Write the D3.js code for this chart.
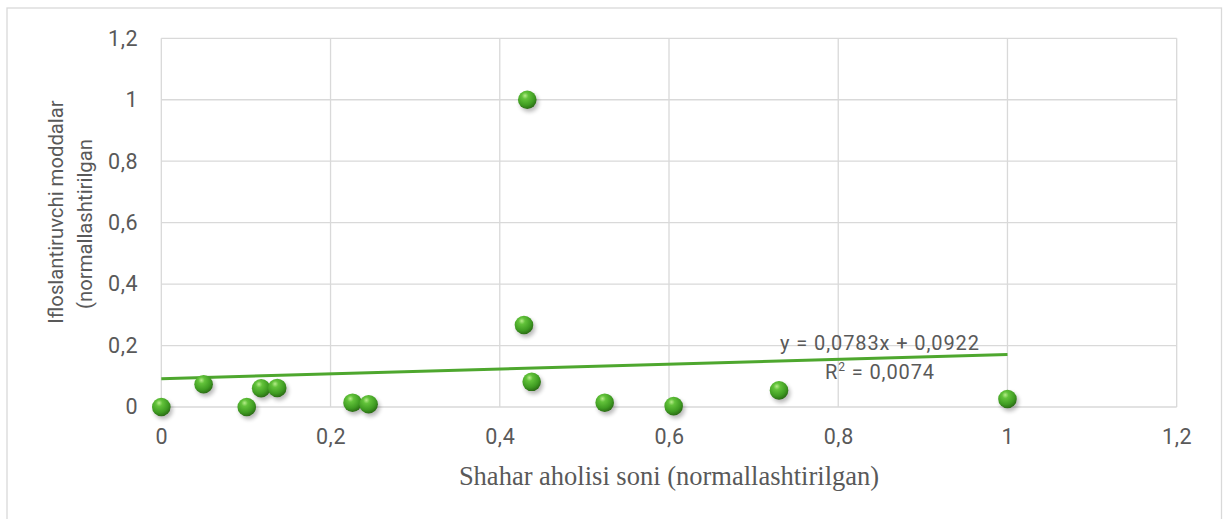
<!DOCTYPE html>
<html>
<head>
<meta charset="utf-8">
<script src="https://cdn.jsdelivr.net/npm/d3@7"></script>
<style>
  html, body { margin: 0; padding: 0; background: #fff; }
  svg { display: block; }
</style>
</head>
<body>
<svg id="chart" width="1223" height="519"></svg>
<script>
// Data
const xValues = [0, 0.050, 0.101, 0.118, 0.137, 0.226, 0.245, 0.4325, 0.4286, 0.4377, 0.524, 0.6055, 0.730, 1.0];
const yValues = [0, 0.074, 0.000, 0.061, 0.062, 0.014, 0.009, 1.000, 0.267, 0.082, 0.014, 0.003, 0.054, 0.026];
const xTicks = [0, 0.2, 0.4, 0.6, 0.8, 1, 1.2];
const yTicks = [0, 0.2, 0.4, 0.6, 0.8, 1, 1.2];
const trendSlope = 0.0783;
const trendIntercept = 0.0922;
const trendRange = [0, 1];
const equationText = "y = 0,0783x + 0,0922";
const r2Text = "0,0074";
const xTitle = "Shahar aholisi soni (normallashtirilgan)";
const yTitleLines = ["Ifloslantiruvchi moddalar", "(normallashtirilgan"];

const svg = d3.select("#chart");
const fmt = v => String(+v.toFixed(1)).replace(".", ",");

const x = d3.scaleLinear().domain([0, 1.2]).range([161.3, 1176.7]);
const y = d3.scaleLinear().domain([0, 1.2]).range([407, 38.3]);

// outer border
svg.append("rect").attr("x", 7).attr("y", 8).attr("width", 1214.5).attr("height", 520)
  .attr("fill", "#fff").attr("stroke", "#d9d9d9").attr("stroke-width", 1.3);

const defs = svg.append("defs");
const grad = defs.append("radialGradient").attr("id", "ball")
  .attr("cx", "40%").attr("cy", "32%").attr("r", "70%").attr("fx", "38%").attr("fy", "28%");
grad.append("stop").attr("offset", "0%").attr("stop-color", "#b6ec8a");
grad.append("stop").attr("offset", "25%").attr("stop-color", "#62c23a");
grad.append("stop").attr("offset", "70%").attr("stop-color", "#3f9c22");
grad.append("stop").attr("offset", "100%").attr("stop-color", "#2a6a14");
const sh = defs.append("filter").attr("id", "shadow").attr("x", "-50%").attr("y", "-50%").attr("width", "200%").attr("height", "200%");
sh.append("feGaussianBlur").attr("stdDeviation", 2.2);

// grid
const grid = svg.append("g");
grid.selectAll("line.v").data(xTicks).join("line")
  .attr("x1", d => x(d)).attr("x2", d => x(d)).attr("y1", y(1.2)).attr("y2", y(0))
  .attr("stroke", "#d9d9d9").attr("stroke-width", 1.3);
grid.selectAll("line.h").data(yTicks).join("line")
  .attr("x1", x(0)).attr("x2", x(1.2)).attr("y1", d => y(d)).attr("y2", d => y(d))
  .attr("stroke", "#d9d9d9").attr("stroke-width", 1.3);

// axes labels via d3 axes
const xAxis = d3.axisBottom(x).tickValues(xTicks).tickFormat(fmt).tickSize(0).tickPadding(22);
const gx = svg.append("g").attr("transform", `translate(0,${y(0)})`).call(xAxis);
const yAxis = d3.axisLeft(y).tickValues(yTicks).tickFormat(fmt).tickSize(0).tickPadding(23);
const gy = svg.append("g").attr("transform", `translate(${x(0)},0)`).call(yAxis);
[gx, gy].forEach(g => {
  g.select(".domain").remove();
  g.selectAll("text").attr("fill", "#595959").style("font-family", "Roboto, sans-serif")
    .style("font-size", "21.5px").style("letter-spacing", "0.6px");
});

// trendline
svg.append("line")
  .attr("x1", x(trendRange[0])).attr("y1", y(trendSlope * trendRange[0] + trendIntercept))
  .attr("x2", x(trendRange[1])).attr("y2", y(trendSlope * trendRange[1] + trendIntercept))
  .attr("stroke", "#4ea72e").attr("stroke-width", 3);

// points
const pts = xValues.map((v, i) => ({ x: v, y: yValues[i] }));
svg.append("g").selectAll("circle").data(pts).join("circle")
  .attr("cx", d => x(d.x) + 2).attr("cy", d => y(d.y) + 3).attr("r", 9.3)
  .attr("fill", "#000").attr("opacity", 0.28).attr("filter", "url(#shadow)");
svg.append("g").selectAll("circle").data(pts).join("circle")
  .attr("cx", d => x(d.x)).attr("cy", d => y(d.y)).attr("r", 9.3)
  .attr("fill", "url(#ball)");

// equation labels
const eq = svg.append("g").attr("fill", "#595959").style("font-family", "Roboto, sans-serif")
  .style("font-size", "20px").style("letter-spacing", "0.9px");
eq.append("text").attr("x", 880).attr("y", 350).attr("text-anchor", "middle").text(equationText);
const r2 = eq.append("text").attr("x", 880).attr("y", 379).attr("text-anchor", "middle");
r2.append("tspan").text("R");
r2.append("tspan").attr("dy", -8).style("font-size", "12px").text("2");
r2.append("tspan").attr("dy", 8).text(" = " + r2Text);

// axis titles
svg.append("text").attr("x", x(0.6)).attr("y", 485).attr("text-anchor", "middle")
  .attr("fill", "#595959").style("font-family", "'Liberation Serif', 'Times New Roman', serif")
  .style("font-size", "26.5px").text(xTitle);

const yt = svg.append("g").attr("fill", "#595959").style("font-family", "Roboto, sans-serif")
  .style("font-size", "20.3px");
yt.append("text").attr("transform", "translate(63,212) rotate(-90)").attr("text-anchor", "middle").text(yTitleLines[0]);
yt.append("text").attr("transform", "translate(92,224) rotate(-90)").attr("text-anchor", "middle").text(yTitleLines[1]);
</script>
</body>
</html>
